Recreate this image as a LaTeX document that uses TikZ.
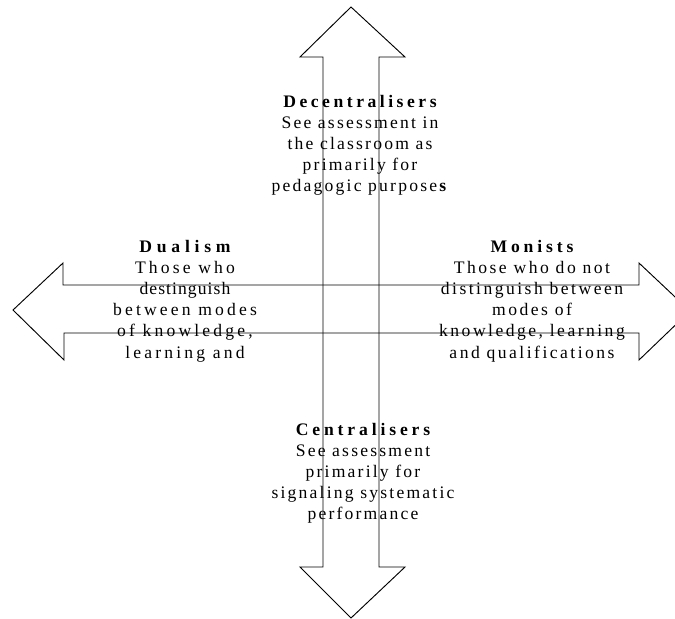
\documentclass[tikz,border=0pt]{standalone}
\usepackage{fontspec}
\setmainfont{Liberation Serif}

% bold heading of each quadrant, with its own tracking
\newcommand\quadhead[2]{{\bfseries\addfontfeature{LetterSpace=#1}#2}}

\begin{document}
\begin{tikzpicture}[x=0.75pt,y=-0.75pt,line width=0.7pt,
    blurb/.style={align=center,inner sep=0pt,anchor=north,
      font=\fontsize{13.2}{15.8}\selectfont\addfontfeature{LetterSpace=#1}}]
\useasboundingbox (0,0) rectangle (675,618);
\clip (0,0) rectangle (675,618);

% vertical double arrow: centralisers -- decentralisers
\draw (323,57) -- (300,57) -- (351,7) -- (405,57) -- (379,57)
      -- (379,567) -- (405,567) -- (351,618) -- (300,567) -- (323,567) -- cycle;
% horizontal double arrow: dualism -- monists
\draw (63,285) -- (63,263) -- (13,310) -- (64,360) -- (64,333)
      -- (639,333) -- (639,360) -- (690,311) -- (639,263) -- (639,285) -- cycle;

\node[blurb=12.5] (decentral) at (360,95) {\quadhead{20}{Decentralisers}\\
  See assessment in\\ the classroom as\\ primarily for\\
  pedagogic purpose\textbf{s}};
\node[blurb=18] (dualism) at (185,240) {\quadhead{27}{Dualism}\\
  Those who\\ {\addfontfeature{LetterSpace=6}destinguish}\\ between modes\\
  of knowledge,\\ learning and};
\node[blurb=14] (monists) at (532,240) {\quadhead{22}{Monists}\\
  Those who do not\\ distinguish between\\ modes of\\
  knowledge, learning\\ and qualifications};
\node[blurb=12.5] (central) at (363,423) {\quadhead{22}{Centralisers}\\
  See assessment\\ primarily for\\ signaling systematic\\ performance};
\end{tikzpicture}
\end{document}
